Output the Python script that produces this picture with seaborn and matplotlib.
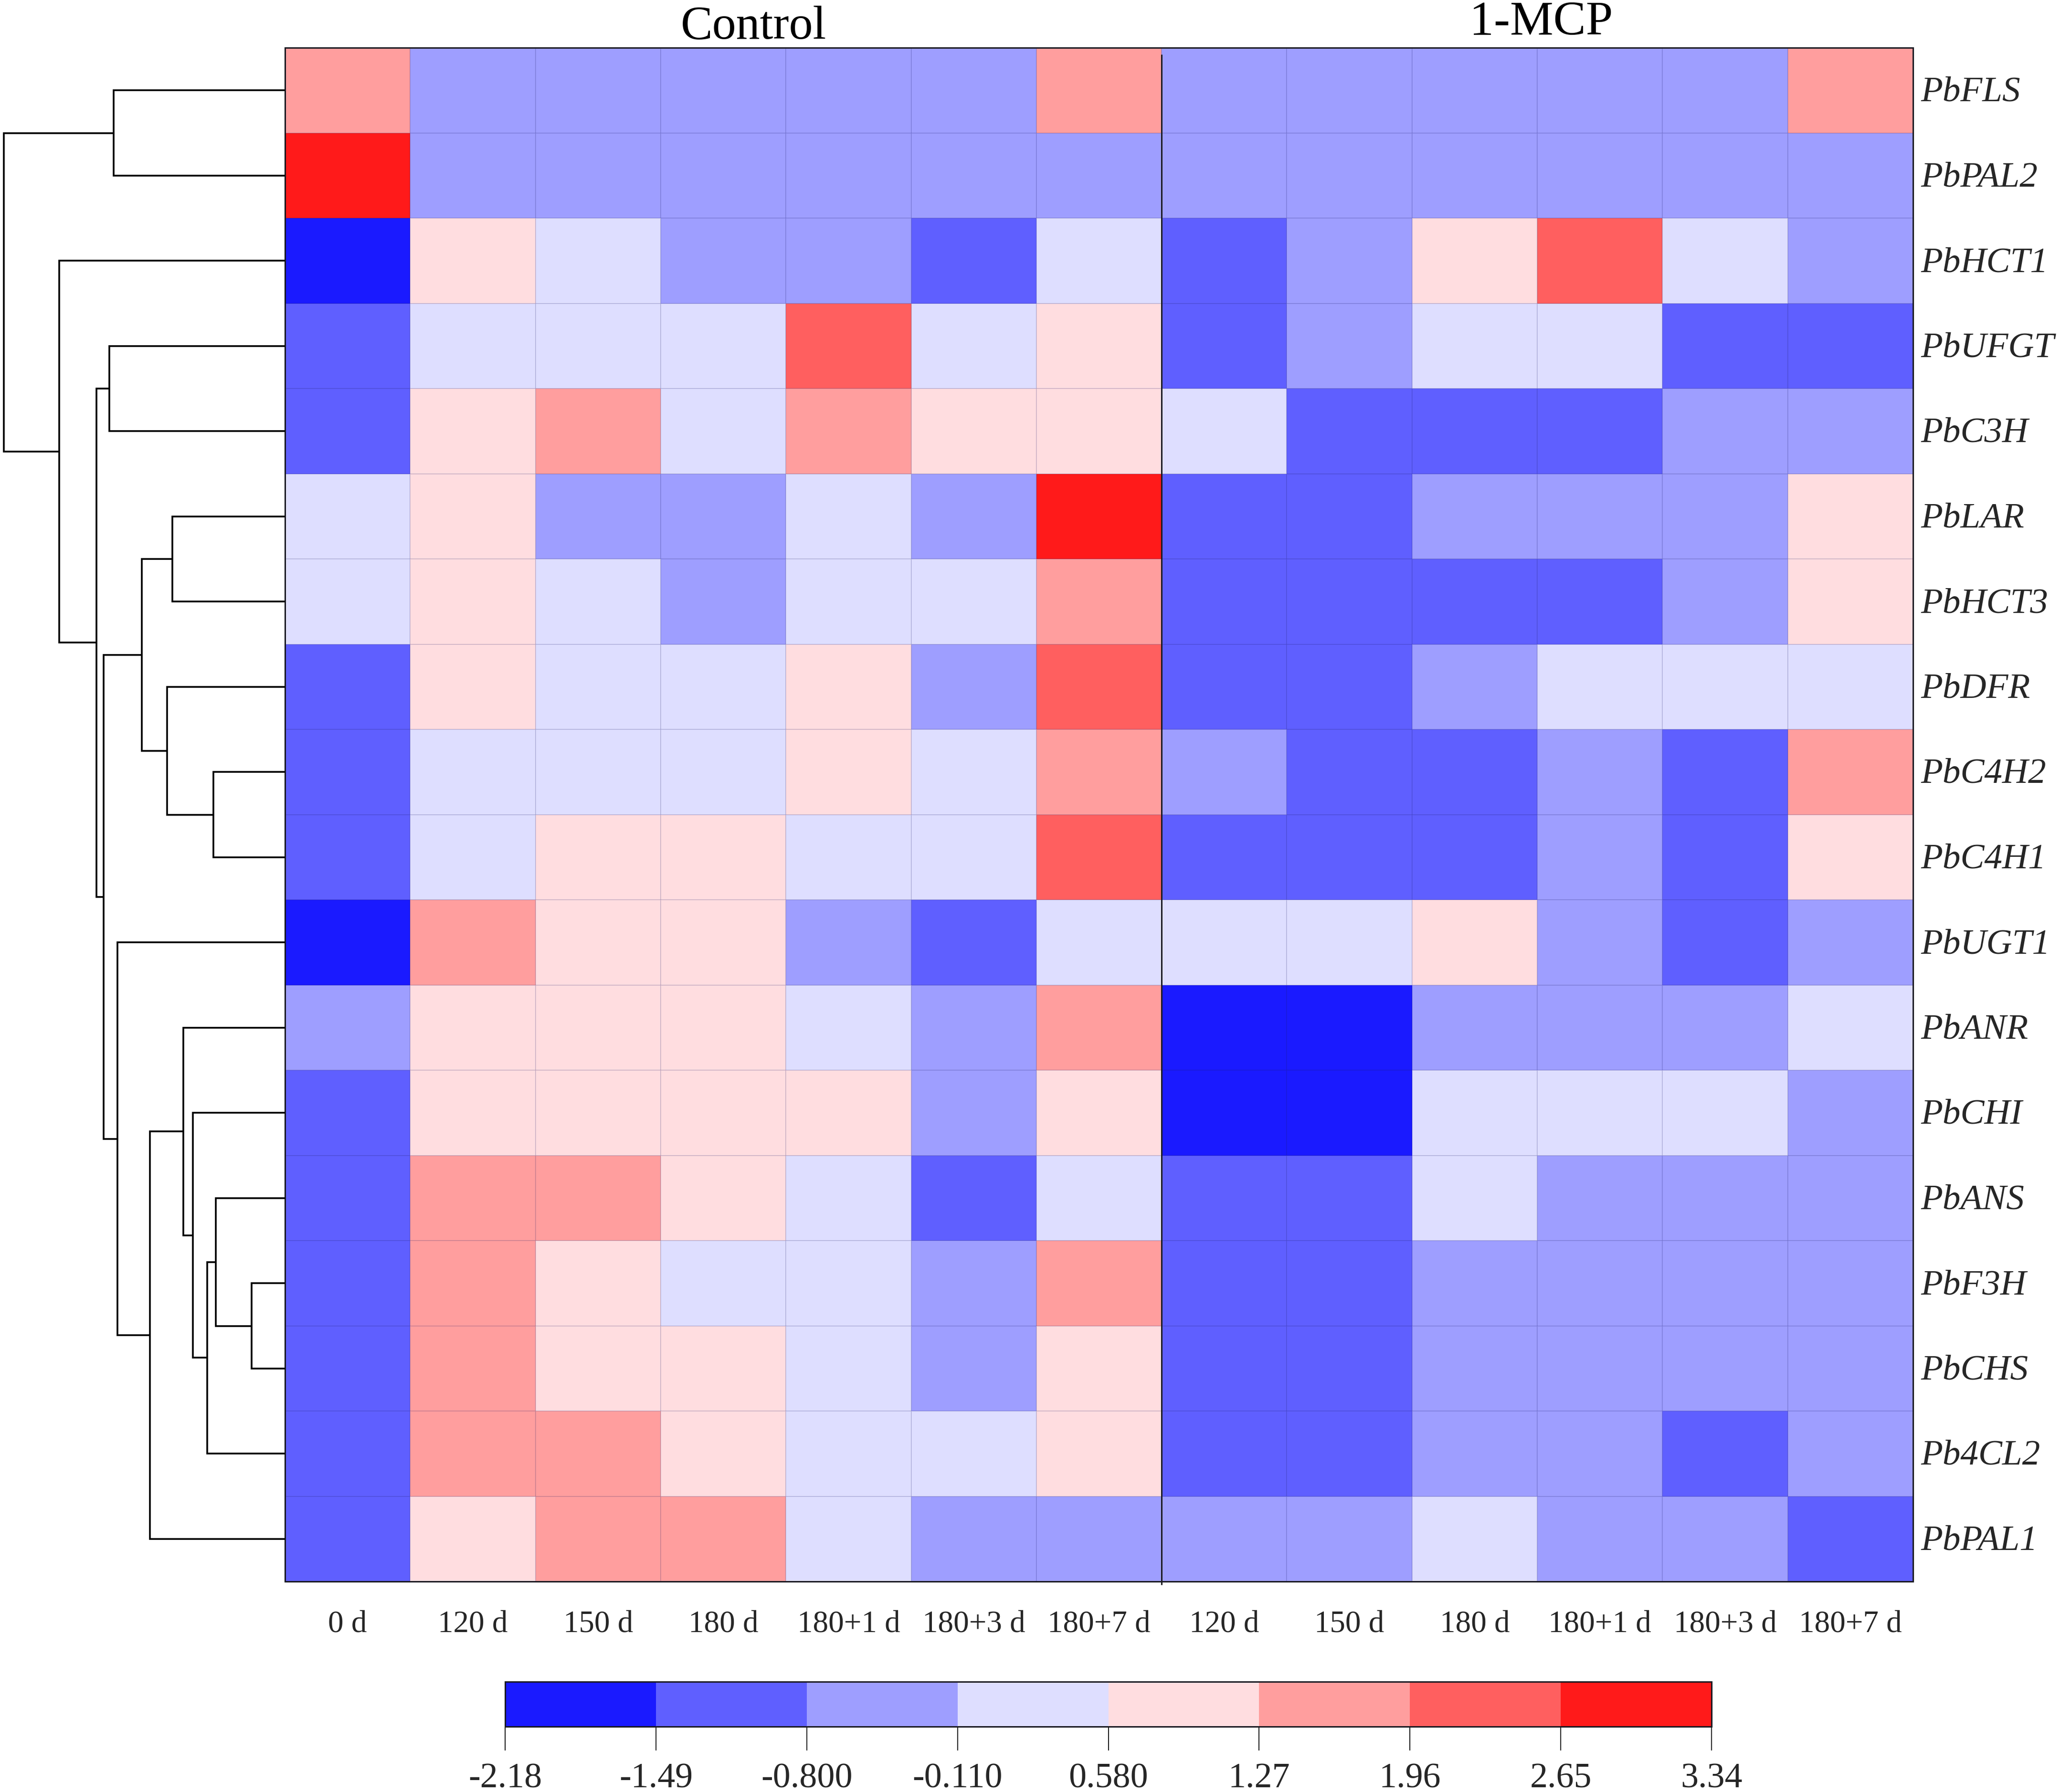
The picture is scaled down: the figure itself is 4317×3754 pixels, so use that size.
import numpy as np
import pandas as pd
import seaborn as sns
from matplotlib import pyplot as plt
from matplotlib.colors import BoundaryNorm, ListedColormap
from matplotlib.transforms import ScaledTranslation

sns.set_theme(style="white")
plt.rcParams["font.family"] = ["Liberation Serif", "DejaVu Serif"]

W, H = 4317, 3754

genes = ["PbFLS", "PbPAL2", "PbHCT1", "PbUFGT", "PbC3H", "PbLAR", "PbHCT3", "PbDFR", "PbC4H2",
         "PbC4H1", "PbUGT1", "PbANR", "PbCHI", "PbANS", "PbF3H", "PbCHS", "Pb4CL2", "PbPAL1"]
days = ["0 d", "120 d", "150 d", "180 d", "180+1 d", "180+3 d", "180+7 d",
        "120 d", "150 d", "180 d", "180+1 d", "180+3 d", "180+7 d"]
cbar_ticks = [-2.18, -1.49, -0.80, -0.11, 0.58, 1.27, 1.96, 2.65, 3.34]
cbar_labels = ["-2.18", "-1.49", "-0.800", "-0.110", "0.580", "1.27", "1.96", "2.65", "3.34"]
colors = ["#1a1aff", "#5f5fff", "#9e9eff", "#dedeff", "#ffdde0", "#ff9e9e", "#ff5f5f", "#ff1a1a"]

# values estimated from the colour bins
PbFLS = [1.6, -0.5, -0.5, -0.5, -0.5, -0.5, 1.6, -0.5, -0.5, -0.5, -0.5, -0.5, 1.6]
PbPAL2 = [3.0, -0.5, -0.5, -0.5, -0.5, -0.5, -0.5, -0.5, -0.5, -0.5, -0.5, -0.5, -0.5]
PbHCT1 = [-1.8, 0.9, 0.2, -0.5, -0.5, -1.1, 0.2, -1.1, -0.5, 0.9, 2.3, 0.2, -0.5]
PbUFGT = [-1.1, 0.2, 0.2, 0.2, 2.3, 0.2, 0.9, -1.1, -0.5, 0.2, 0.2, -1.1, -1.1]
PbC3H = [-1.1, 0.9, 1.6, 0.2, 1.6, 0.9, 0.9, 0.2, -1.1, -1.1, -1.1, -0.5, -0.5]
PbLAR = [0.2, 0.9, -0.5, -0.5, 0.2, -0.5, 3.0, -1.1, -1.1, -0.5, -0.5, -0.5, 0.9]
PbHCT3 = [0.2, 0.9, 0.2, -0.5, 0.2, 0.2, 1.6, -1.1, -1.1, -1.1, -1.1, -0.5, 0.9]
PbDFR = [-1.1, 0.9, 0.2, 0.2, 0.9, -0.5, 2.3, -1.1, -1.1, -0.5, 0.2, 0.2, 0.2]
PbC4H2 = [-1.1, 0.2, 0.2, 0.2, 0.9, 0.2, 1.6, -0.5, -1.1, -1.1, -0.5, -1.1, 1.6]
PbC4H1 = [-1.1, 0.2, 0.9, 0.9, 0.2, 0.2, 2.3, -1.1, -1.1, -1.1, -0.5, -1.1, 0.9]
PbUGT1 = [-1.8, 1.6, 0.9, 0.9, -0.5, -1.1, 0.2, 0.2, 0.2, 0.9, -0.5, -1.1, -0.5]
PbANR = [-0.5, 0.9, 0.9, 0.9, 0.2, -0.5, 1.6, -1.8, -1.8, -0.5, -0.5, -0.5, 0.2]
PbCHI = [-1.1, 0.9, 0.9, 0.9, 0.9, -0.5, 0.9, -1.8, -1.8, 0.2, 0.2, 0.2, -0.5]
PbANS = [-1.1, 1.6, 1.6, 0.9, 0.2, -1.1, 0.2, -1.1, -1.1, 0.2, -0.5, -0.5, -0.5]
PbF3H = [-1.1, 1.6, 0.9, 0.2, 0.2, -0.5, 1.6, -1.1, -1.1, -0.5, -0.5, -0.5, -0.5]
PbCHS = [-1.1, 1.6, 0.9, 0.9, 0.2, -0.5, 0.9, -1.1, -1.1, -0.5, -0.5, -0.5, -0.5]
Pb4CL2 = [-1.1, 1.6, 1.6, 0.9, 0.2, 0.2, 0.9, -1.1, -1.1, -0.5, -0.5, -1.1, -0.5]
PbPAL1 = [-1.1, 0.9, 1.6, 1.6, 0.2, -0.5, -0.5, -0.5, -0.5, 0.2, -0.5, -0.5, -1.1]

values = [PbFLS, PbPAL2, PbHCT1, PbUFGT, PbC3H, PbLAR, PbHCT3, PbDFR, PbC4H2,
          PbC4H1, PbUGT1, PbANR, PbCHI, PbANS, PbF3H, PbCHS, Pb4CL2, PbPAL1]

# dendrogram: children (gene name or earlier merge number) and merge distance
merges = [
    ("PbFLS", "PbPAL2", 359),      # 0
    ("PbUFGT", "PbC3H", 368),      # 1
    ("PbLAR", "PbHCT3", 236),      # 2
    ("PbC4H2", "PbC4H1", 150),     # 3
    ("PbDFR", 3, 247),             # 4
    (2, 4, 300),                   # 5
    ("PbF3H", "PbCHS", 70),        # 6
    ("PbANS", 6, 145),             # 7
    (7, "Pb4CL2", 163),            # 8
    ("PbCHI", 8, 193),             # 9
    ("PbANR", 9, 213),             # 10
    (10, "PbPAL1", 283),           # 11
    ("PbUGT1", 11, 351),           # 12
    (5, 12, 380),                  # 13
    (1, 13, 395),                  # 14
    ("PbHCT1", 14, 473),           # 15
    (0, 15, 589),                  # 16
]


def box(x0, y0, x1, y1):
    return fig.add_axes([x0 / W, 1 - y1 / H, (x1 - x0) / W, (y1 - y0) / H])


def pt(px):
    return px * 0.72


fig = plt.figure(figsize=(W / 100, H / 100), dpi=100, facecolor="white")

ax = box(597, 100, 4007, 3313)
tree_ax = box(0, 100, 597, 3313)
cbar_ax = box(1058, 3523, 3585, 3617)

data = pd.DataFrame(values, index=genes)
cmap = ListedColormap(colors)
norm = BoundaryNorm(cbar_ticks, cmap.N)

sns.heatmap(
    data,
    ax=ax,
    cmap=cmap,
    norm=norm,
    linewidths=1.2,
    linecolor=(0.1, 0.1, 0.4, 0.13),
    xticklabels=days,
    yticklabels=genes,
    cbar_ax=cbar_ax,
    cbar_kws={"orientation": "horizontal", "ticks": cbar_ticks, "spacing": "uniform"},
)

ax.tick_params(axis="x", length=0, pad=pt(60), labelsize=pt(65), labelrotation=0)
ax.yaxis.tick_right()
ax.tick_params(axis="y", length=0, pad=pt(16), labelsize=pt(75), labelrotation=0)
down = ScaledTranslation(0, -5 / 100, fig.dpi_scale_trans)
for label in ax.get_yticklabels():
    label.set_fontstyle("italic")
    label.set_va("center")
    label.set_transform(label.get_transform() + down)
for spine in ax.spines.values():
    spine.set_visible(True)
    spine.set_color("#1a1a22")
    spine.set_linewidth(pt(3))

# line between the two treatments, starts just under the top edge
ax.plot([7, 7], [0.08, 18.04], color="#1a1a22", lw=pt(3), clip_on=False, solid_capstyle="butt")

fig.text(1578 / W, 1 - 80 / H, "Control", fontsize=pt(100), ha="center", va="baseline", color="black")
fig.text(3228 / W, 1 - 73 / H, "1-MCP", fontsize=pt(102), ha="center", va="baseline", color="black")

# dendrogram from the merge table
leaf_y = {g: i + 0.5 for i, g in enumerate(genes)}
nodes = []
for left, right, dist in merges:
    pos = []
    for child in (left, right):
        if isinstance(child, str):
            pos.append((leaf_y[child], 0))
        else:
            pos.append(nodes[child])
    tree_ax.plot([pos[0][1], dist, dist, pos[1][1]], [pos[0][0], pos[0][0], pos[1][0], pos[1][0]],
                 color="black", lw=pt(3.6), solid_joinstyle="miter", solid_capstyle="butt")
    nodes.append((np.mean([pos[0][0], pos[1][0]]), dist))
tree_ax.set_xlim(597, 0)
tree_ax.set_ylim(18, 0)
tree_ax.axis("off")

cbar = ax.collections[0].colorbar
cbar.set_ticks(cbar_ticks, labels=cbar_labels)
cbar_ax.tick_params(axis="x", length=pt(50), width=pt(2), pad=pt(26), labelsize=pt(74), color="#1a1a1a")
cbar.outline.set_visible(True)
cbar.outline.set_edgecolor("#1a1a22")
cbar.outline.set_linewidth(pt(3))

fig.savefig("out.png", dpi=100, facecolor="white")
